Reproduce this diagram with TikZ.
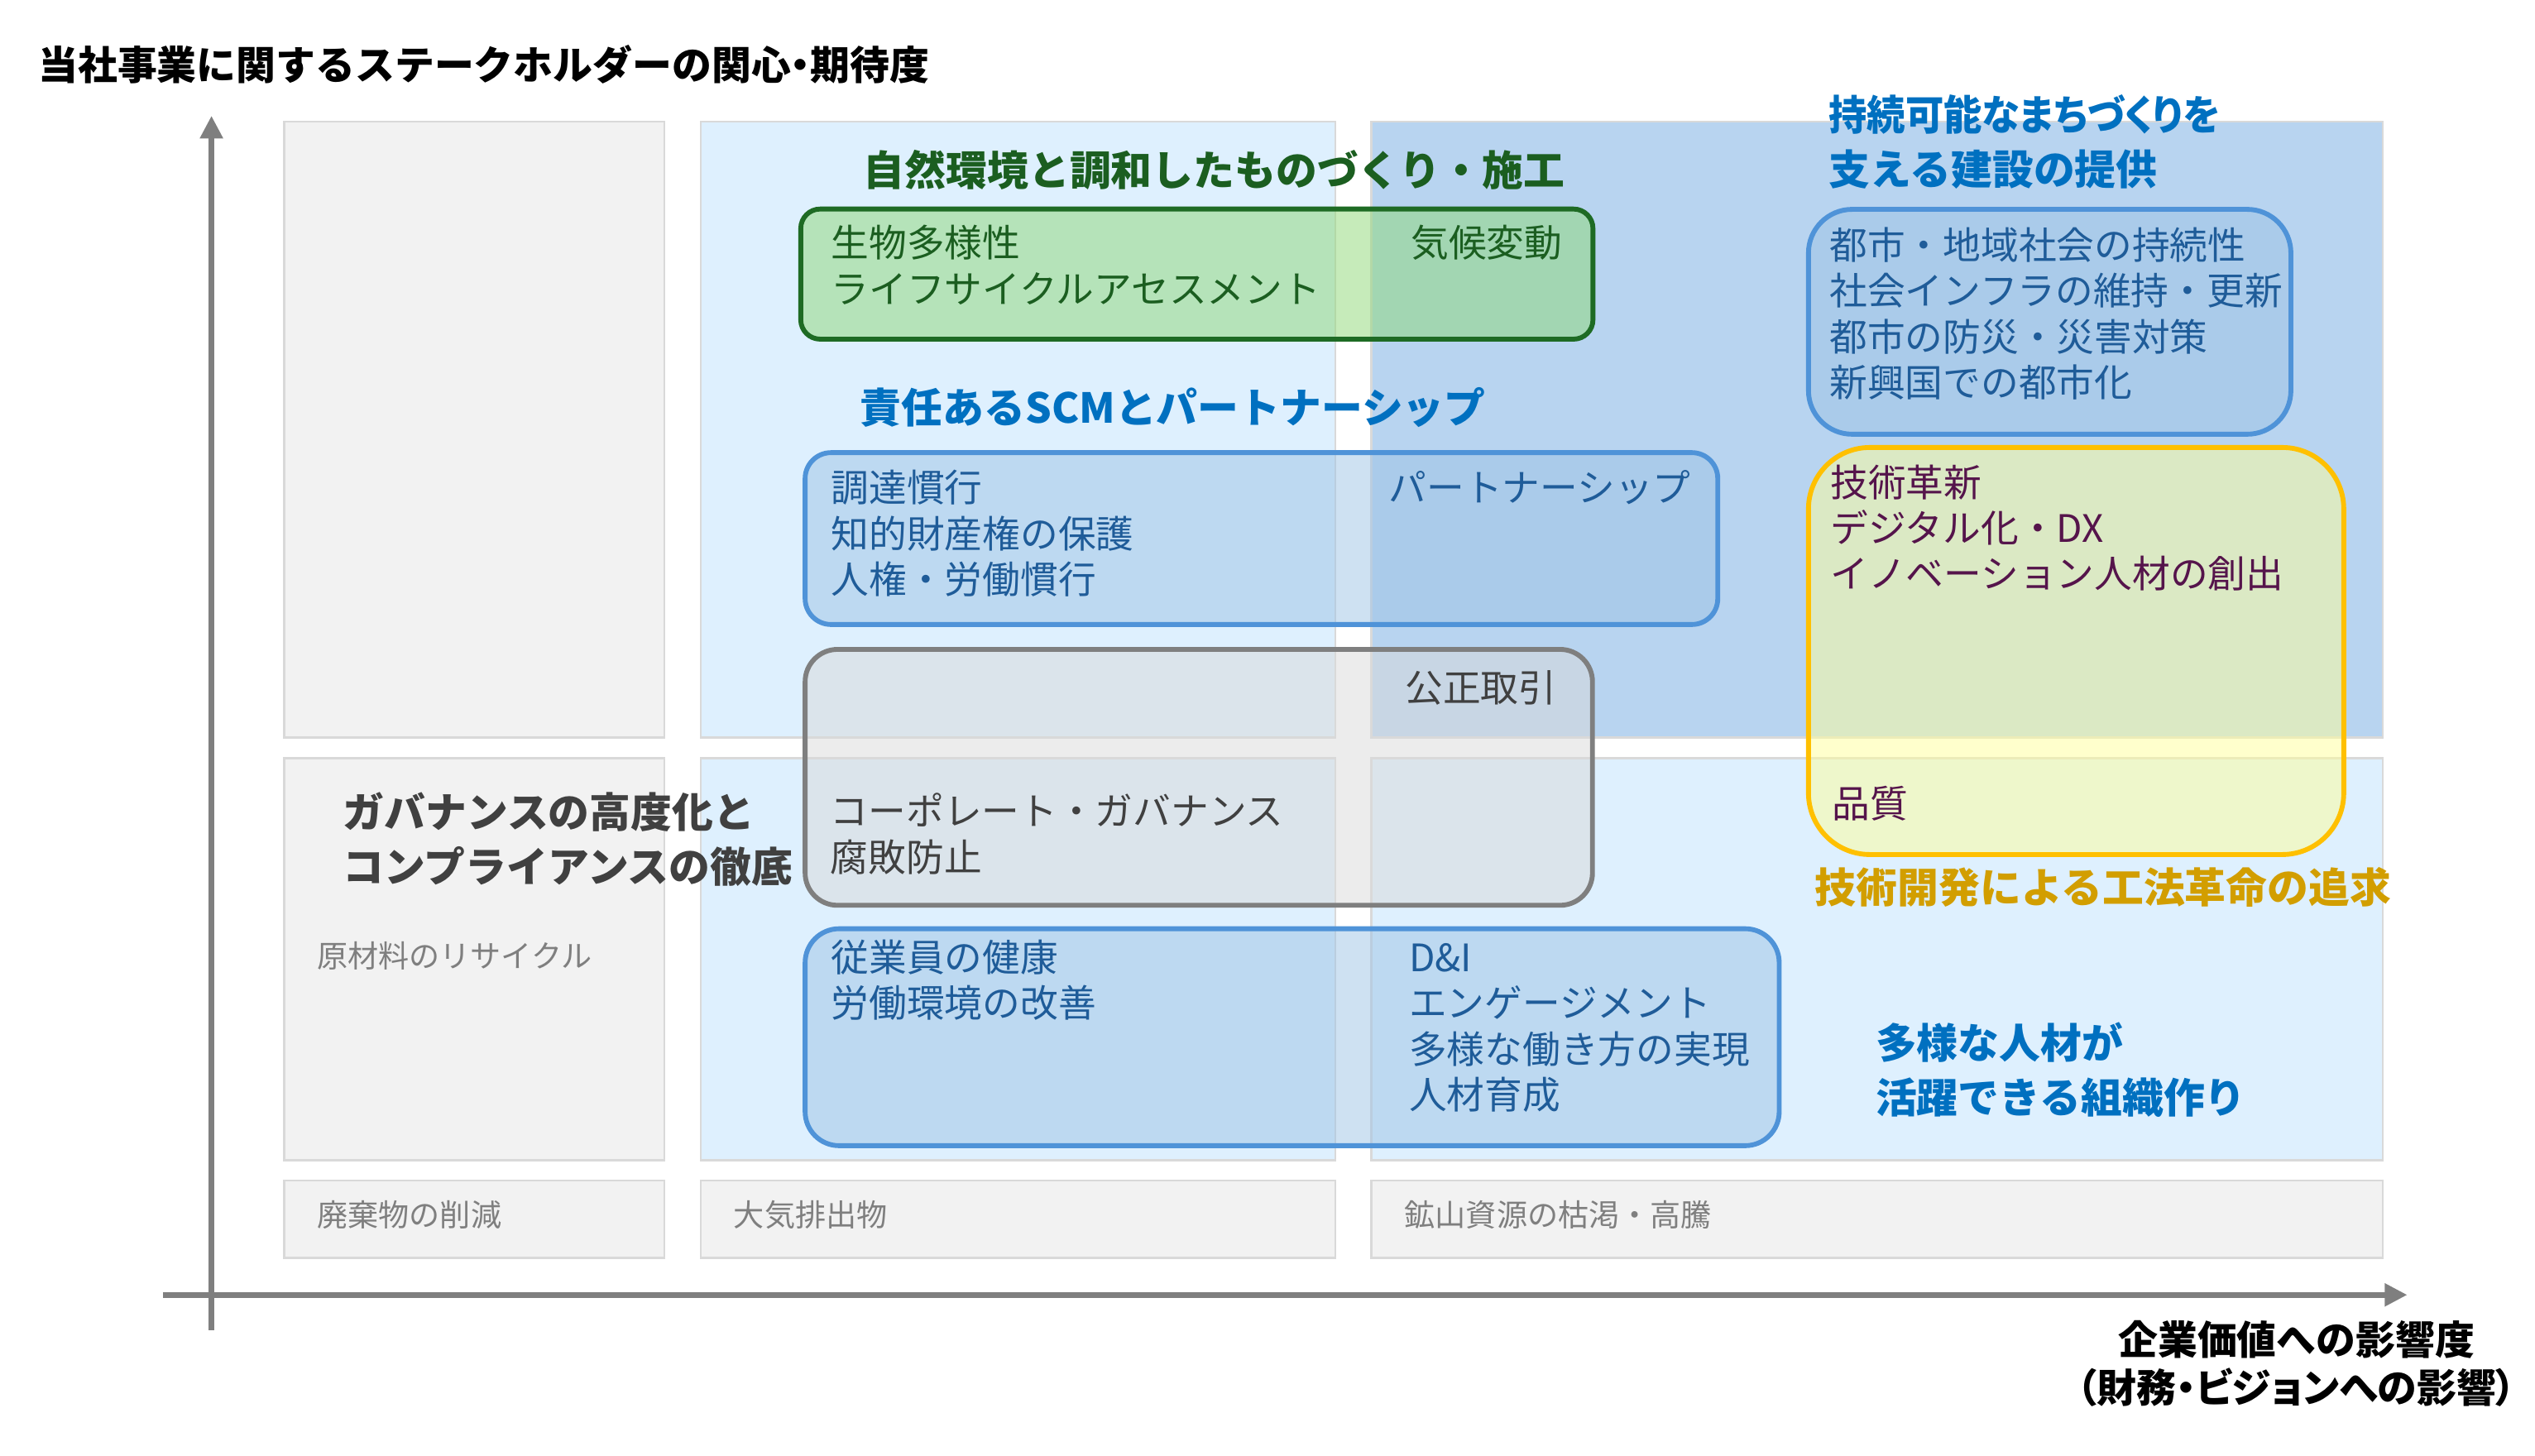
\documentclass[tikz,border=0pt]{standalone}
\usepackage{fontspec}
\usepackage{graphicx}
\newfontfamily\jp{Noto Sans CJK JP}
\newfontfamily\jph[RawFeature=+halt]{Noto Sans CJK JP}
\newfontfamily\jpp[RawFeature=+palt]{Noto Sans CJK JP}
\usetikzlibrary{arrows.meta}
\newcommand\sT{\rule{0pt}{0.88em}}
\definecolor{cellgray}{HTML}{F2F2F2}
\definecolor{cellborder}{HTML}{D9D9D9}
\definecolor{lightblue}{HTML}{DEF0FE}
\definecolor{midblue}{HTML}{B8D4F0}
\definecolor{axisgray}{HTML}{7F7F7F}
\definecolor{greenline}{HTML}{1E6B24}
\definecolor{greentext}{HTML}{1B5E20}
\definecolor{greenfill}{RGB}{142,216,118}
\definecolor{bluefill}{HTML}{9DC3E6}
\definecolor{blueline}{HTML}{4F93D8}
\definecolor{bluetext}{HTML}{1F5C99}
\definecolor{titleblue}{HTML}{0070C0}
\definecolor{grayfill}{HTML}{D9D9D9}
\definecolor{darkgray}{HTML}{404040}
\definecolor{yellowfill}{HTML}{FFFF99}
\definecolor{yellowline}{HTML}{FFC000}
\definecolor{yellowtext}{RGB}{85,20,75}
\definecolor{goldtext}{RGB}{210,158,0}
\definecolor{softgray}{HTML}{7F7F7F}
\tikzset{
  cellG/.style={fill=cellgray, draw=cellborder, line width=1.4pt},
  cellL/.style={fill=lightblue, draw=cellborder, line width=1.4pt},
  cellM/.style={fill=midblue, draw=cellborder, line width=1.4pt},
  boxbase/.style={line width=3pt, fill opacity=0.5},
  greenbox/.style={boxbase, draw=greenline, fill=greenfill, rounded corners=12pt},
  bluebox/.style={boxbase, draw=blueline, fill=bluefill},
  graybox/.style={boxbase, draw=axisgray, fill=grayfill, rounded corners=20pt},
  yellowbox/.style={boxbase, draw=yellowline, fill=yellowfill, rounded corners=38pt},
  txt/.style={anchor=north west, inner sep=0pt, align=left},
  body/.style={txt, font=\jp\fontsize{23.4}{28.3}\selectfont},
  headtxt/.style={txt, font=\jp\bfseries\fontsize{25.5}{33.8}\selectfont},
  smalltxt/.style={txt, font=\jp\fontsize{19}{23}\selectfont, text=softgray},
  axisline/.style={draw=axisgray, line width=3.6pt, -{Triangle[length=14pt,width=13.5pt]}},
}
\begin{document}
\begin{tikzpicture}[x=1pt,y=-1pt]
\useasboundingbox (0,0) rectangle (1568,900.2);
% grid cells
\path[cellG] (175.7,75.2) rectangle (410.9,456.3);
\path[cellL] (433.4,75.2) rectangle (825.9,456.3);
\path[cellM] (848.4,75.2) rectangle (1473.8,456.3);
\path[cellG] (175.7,469) rectangle (410.9,717.9);
\path[cellL] (433.4,469) rectangle (825.9,717.9);
\path[cellL] (848.4,469) rectangle (1473.8,717.9);
\path[cellG] (175.7,730.2) rectangle (410.9,778.2);
\path[cellG] (433.4,730.2) rectangle (825.9,778.2);
\path[cellG] (848.4,730.2) rectangle (1473.8,778.2);
% axes
\coordinate (yBot) at (130.8,822.8);
\coordinate (yTop) at (130.8,71.6);
\coordinate (xL) at (100.9,801);
\coordinate (xR) at (1489,801);
\draw[axisline] (yBot) -- (yTop);
\draw[axisline] (xL) -- (xR);
% grouping boxes
\path[greenbox] (495.3,129.3) rectangle (985.3,209.8);
\path[bluebox, rounded corners=16pt] (498,280) rectangle (1062.5,386.3);
\path[graybox] (498,401.7) rectangle (985,560);
\path[bluebox, rounded corners=21pt] (498,574.5) rectangle (1100.5,708.7);
\path[bluebox, rounded corners=27pt] (1118.6,129.5) rectangle (1417,268.6);
\path[yellowbox] (1118.6,276.8) rectangle (1449.7,528.6);
% titles
\node[txt, text=black, font=\jph\bfseries\fontsize{24.5}{30}\selectfont] (title) at (23.5,27.5) {\sT 当社事業に関するステークホルダーの関心・期待度};
\node[anchor=north, inner sep=0pt, align=center, text=black, font=\jph\bfseries\fontsize{24.5}{29.5}\selectfont] (xlabel) at (1420.5,816.3) {\sT 企業価値への影響度\\{\jpp\bfseries （財務・ビジョンへの影響）}};
% section headings
\node[headtxt, text=greentext] (tGreen) at (534,92) {\sT 自然環境と調和したものづくり・施工};
\node[headtxt, text=titleblue] (tSCM) at (532,239.3) {\sT 責任あるSCMとパートナーシップ};
\node[headtxt, text=titleblue] (tCity) at (1131,57.8) {\sT\scalebox{0.93}[1]{\jpp\bfseries 持続可能なまちづくりを}\\支える建設の提供};
\node[headtxt, text=darkgray] (tGov) at (212,489.3) {\sT ガバナンスの高度化と\\コンプライアンスの徹底};
\node[headtxt, text=titleblue] (tDiv) at (1160,632.3) {\sT 多様な人材が\\活躍できる組織作り};
\node[headtxt, text=goldtext] (tTech) at (1122.5,535.8) {\sT 技術開発による工法革命の追求};
% box contents
\node[body, text=greentext] (g1) at (514,138.3) {\sT 生物多様性\\ライフサイクルアセスメント};
\node[body, text=greentext, anchor=north east] (g2) at (966.6,138.3) {\sT 気候変動};
\node[body, text=bluetext] (b1) at (514,289.8) {\sT 調達慣行\\知的財産権の保護\\人権・労働慣行};
\node[body, text=bluetext, anchor=north east] (b2) at (1046,289.8) {\sT パートナーシップ};
\node[body, text=darkgray] (c1) at (869,413.3) {\sT 公正取引};
\node[body, text=darkgray] (c2) at (513.5,489.8) {\sT コーポレート・ガバナンス\\腐敗防止};
\node[body, text=bluetext] (h1) at (514,580.3) {\sT 従業員の健康\\労働環境の改善};
\node[body, text=bluetext] (h2) at (871.4,580.3) {\sT D\&I\\エンゲージメント\\多様な働き方の実現\\人材育成};
\node[body, text=bluetext] (u1) at (1131.5,139.7) {\sT 都市・地域社会の持続性\\社会インフラの維持・更新\\都市の防災・災害対策\\新興国での都市化};
\node[body, text=yellowtext] (y1) at (1132,286.3) {\sT 技術革新\\デジタル化・DX\\イノベーション人材の創出};
\node[body, text=yellowtext] (y2) at (1133,485.3) {\sT 品質};
% grey notes
\node[smalltxt] (s1) at (195.8,581.5) {\sT 原材料のリサイクル};
\node[smalltxt] (s2) at (196,741.5) {\sT 廃棄物の削減};
\node[smalltxt] (s3) at (453.7,741.5) {\sT 大気排出物};
\node[smalltxt] (s4) at (868.6,741.5) {\sT 鉱山資源の枯渇・高騰};
\end{tikzpicture}
\end{document}
